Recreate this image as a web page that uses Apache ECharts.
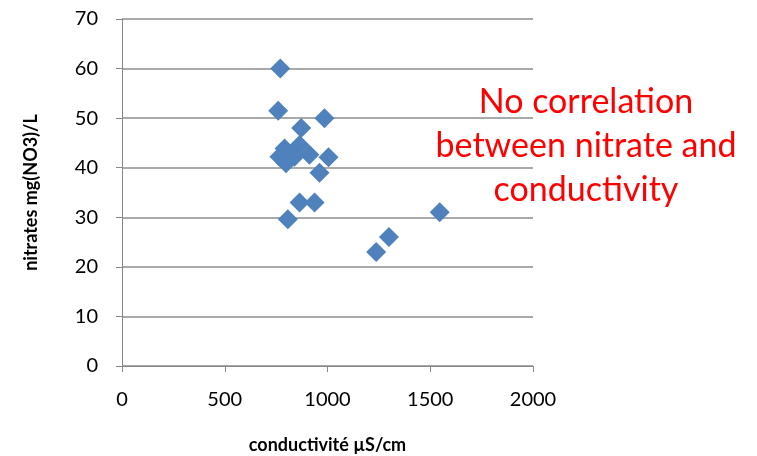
<!DOCTYPE html>
<html>
<head>
<meta charset="utf-8">
<script src="https://cdn.jsdelivr.net/npm/echarts@6/dist/echarts.min.js"></script>
<style>
  html, body { margin: 0; padding: 0; background: #fff; }
  #chart { width: 757px; height: 456px; }
</style>
</head>
<body>
<div id="chart"></div>
<script>
// conductivity (µS/cm) and nitrates (mg NO3/L)
var conductivity = [770, 760, 985, 872, 791, 864, 766, 912, 839, 798, 1005, 961, 864, 937, 807, 1546, 1299, 1237];
var nitrates = [60, 51.5, 50, 48, 43.9, 44.6, 42.2, 42.6, 42.2, 40.9, 42.1, 39, 33, 33, 29.6, 31, 26, 23];
var xTicks = [0, 500, 1000, 1500, 2000];
var yTicks = [0, 10, 20, 30, 40, 50, 60, 70];

var points = conductivity.map(function (c, i) { return [c, nitrates[i]]; });

var chart = echarts.init(document.getElementById('chart'));
var font = 'Lato, "Open Sans", sans-serif';

var option = {
    animation: false,
    grid: { left: 122, right: 224, top: 19, bottom: 90, containLabel: false, outerBoundsMode: 'none' },
    xAxis: {
        type: 'value',
        min: xTicks[0],
        max: xTicks[xTicks.length - 1],
        interval: 500,
        name: 'conductivité µS/cm',
        nameLocation: 'middle',
        nameGap: 70,
        nameTextStyle: { fontFamily: font, fontSize: 18, fontWeight: 'bold', color: '#000' },
        axisLine: { show: true, lineStyle: { color: '#888', width: 1 } },
        axisTick: { show: true, length: 6, lineStyle: { color: '#888' } },
        axisLabel: { fontFamily: font, fontSize: 20, color: '#000', margin: 24, formatter: function (v) { return String(v); } },
        splitLine: { show: false }
    },
    yAxis: {
        type: 'value',
        min: yTicks[0],
        max: yTicks[yTicks.length - 1],
        interval: 10,
        name: 'nitrates mg(NO3)/L',
        nameLocation: 'middle',
        nameGap: 82,
        nameTextStyle: { fontFamily: font, fontSize: 18, fontWeight: 'bold', color: '#000' },
        axisLine: { show: true, lineStyle: { color: '#888', width: 1 } },
        axisTick: { show: true, length: 6, lineStyle: { color: '#888' } },
        axisLabel: { fontFamily: font, fontSize: 20, color: '#000', margin: 24 },
        splitLine: { show: true, lineStyle: { color: '#8c8c8c', width: 1.5 } }
    },
    series: [{
        type: 'scatter',
        symbol: 'diamond',
        symbolSize: 20,
        itemStyle: { color: '#4F81BD', opacity: 1 },
        data: points
    }],
    graphic: [{
        type: 'text',
        x: 586,
        y: 80,
        style: {
            text: 'No correlation\nbetween nitrate and\nconductivity',
            textAlign: 'center',
            fontFamily: font,
            fontSize: 34,
            lineHeight: 44,
            fill: '#ff0000'
        }
    }]
};
chart.setOption(option);
</script>
</body>
</html>
